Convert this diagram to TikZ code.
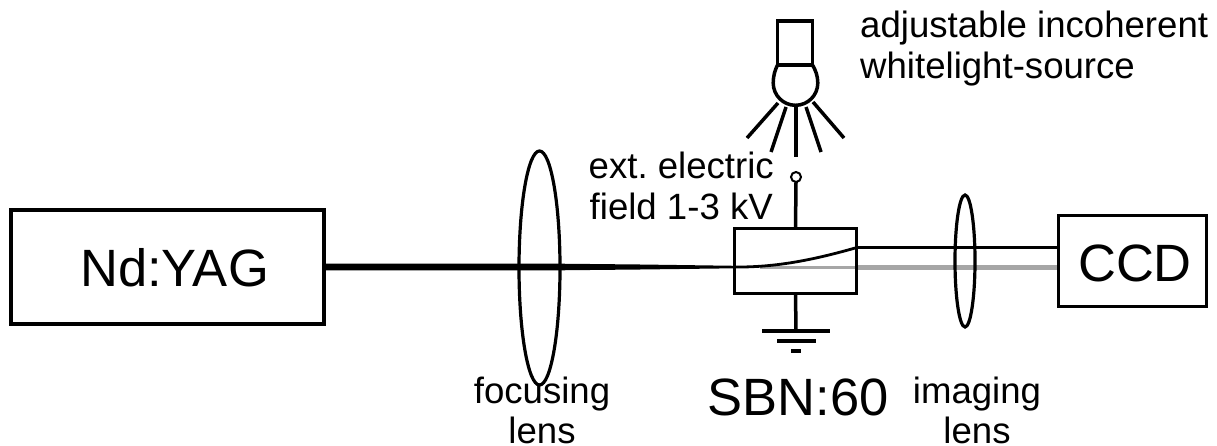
\documentclass[tikz,border=0pt]{standalone}
\usepackage{fontspec}
\setmainfont{Liberation Sans}
\usetikzlibrary{calc,shapes.geometric}
\frenchspacing
\begin{document}
\begin{tikzpicture}[x=1pt,y=-1pt,
  boxn/.style={draw=black,line width=3.2pt,inner sep=0pt,outer sep=0pt},
  lensn/.style={draw=black,ellipse,line width=3.2pt,inner sep=0pt,outer sep=0pt},
  wire/.style={line width=3.5pt,black},
  ray/.style={line width=3.5pt,black},
  big/.style={font=\fontsize{52.5}{52.5}\selectfont,inner sep=0pt,anchor=base},
  small/.style={font=\fontsize{36.6}{36.6}\selectfont,inner sep=0pt,anchor=base}]
\useasboundingbox (0,0) rectangle (1217,446);
% grey beam
\coordinate (gs) at (760,267.5);
\coordinate (gm) at (857,267.5);
\coordinate (ge) at (1058,267.5);
\draw[line width=5pt,gray!70] (gm) -- (ge);
\draw[line width=3pt,gray!70] (gs) -- (gm);
% boxes
\node[boxn,minimum width=313pt,minimum height=114pt] (yag) at (167.5,267) {};
\node[boxn,minimum width=122pt,minimum height=65pt] (sbn) at (795.5,261) {};
\node[boxn,minimum width=148pt,minimum height=91pt] (ccd) at (1132.5,261) {};
% main beam
\fill[black] ($(yag.east)+(0,-3.5)$) -- (560,263.7) -- (640,264.5) -- (735,265.8) -- (735,268.3) -- (640,269.5) -- (560,270.3) -- ($(yag.east)+(0,3.5)$) -- cycle;
% deflected beam
\coordinate (bs) at (735,267);
\coordinate (bm) at (857,247.5);
\draw[line width=2.8pt] (bs) .. controls (780,267.5) and (820,258) .. (bm);
\draw[line width=2.8pt] (bm) -- (bm -| ccd.west);
% lenses
\node[lensn,minimum width=41pt,minimum height=234pt] (flens) at (539.5,268) {};
\node[lensn,minimum width=20pt,minimum height=132pt] (ilens) at (965,261) {};
% electrode
\node[draw=black,circle,line width=2pt,minimum size=10pt,inner sep=0pt,outer sep=0pt] (term) at (796,177) {};
\draw[wire] (sbn.north) -- (term.south);
% ground
\coordinate (g1) at (796,331);
\draw[wire] (sbn.south) -- (g1);
\draw[wire] (762,331) -- (830,331);
\draw[wire] (777,341) -- (816,341);
\draw[wire] (791,351) -- (801,351);
% lamp
\node[boxn,minimum width=35pt,minimum height=44pt] (lamph) at (795,43) {};
\draw[line width=3.5pt] (lamph.south west) .. controls (775,70) and (773.2,76) .. (773.2,83) arc[start angle=180,end angle=0,radius=22.3] .. controls (817.8,76) and (815.5,70) .. (lamph.south east);
\draw[ray] (778,103) -- (747,138);
\draw[ray] (786,107) -- (771,152);
\draw[ray] (796,107) -- (796,157);
\draw[ray] (806,107) -- (821,152);
\draw[ray] (813,102) -- (844,138);
% labels
\node[big] (t1) at (174.5,286) {Nd:YAG};
\node[big] (t2) at (1135,281) {CCD};
\node[big] (t3) at (798,415) {SBN:60};
\node[small] (t4) at (542,403) {focusing};
\node[small] (t5) at (542,443) {lens};
\node[small] (t6) at (977,403) {imaging};
\node[small] (t7) at (977,443) {lens};
\node[small,anchor=base west] (t8) at (860,38) {adjustable incoherent};
\node[small,anchor=base west] (t9) at (860,79) {whitelight-source};
\node[small,anchor=base east] (t10) at (774,179) {ext. electric};
\node[small,anchor=base east] (t11) at (773,220) {field 1-3 kV};
\end{tikzpicture}
\end{document}
